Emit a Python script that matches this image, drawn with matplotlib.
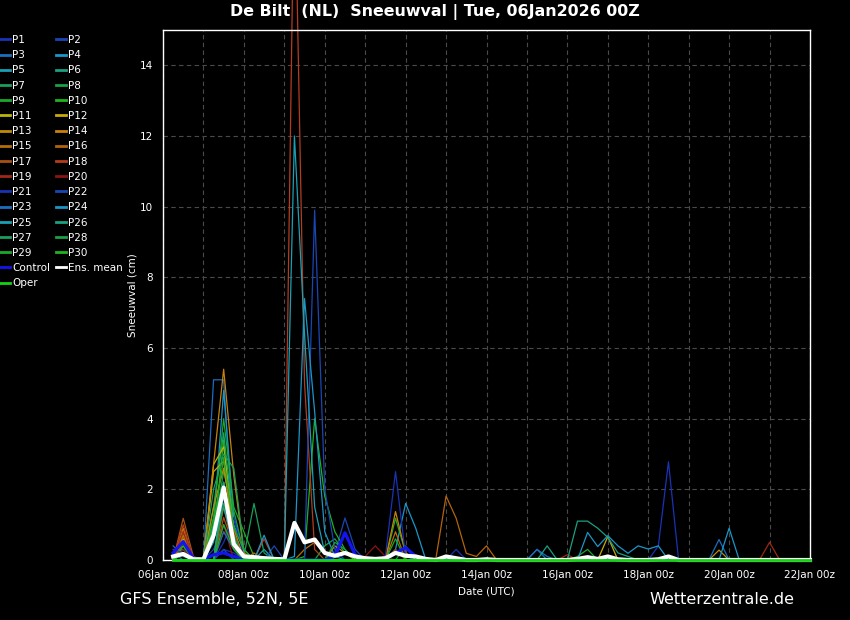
import numpy as np
import matplotlib.pyplot as plt
from matplotlib.lines import Line2D

# =========================
# DATA (sneeuwval in cm, per 6h stap)
# =========================

hours = np.arange(6, 385, 6)  # 06Jan 06z .. 22Jan 00z

tick_hours = [0, 48, 96, 144, 192, 240, 288, 336, 384]
tick_labels = ["06Jan 00z", "08Jan 00z", "10Jan 00z", "12Jan 00z", "14Jan 00z",
               "16Jan 00z", "18Jan 00z", "20Jan 00z", "22Jan 00z"]

# alleen de niet-nul waarden, {uur: cm}
P1 = {6: 0.1, 12: 0.3, 36: 0.3, 42: 0.2, 174: 0.3}
P2 = {12: 0.2, 30: 0.3, 36: 1.0, 42: 0.4, 102: 0.2, 108: 1.19, 114: 0.3}
P3 = {6: 0.4, 12: 0.1, 30: 5.1, 36: 5.1, 42: 0.4, 222: 0.3, 228: 0.1}
P4 = {30: 1.0, 36: 4.8, 42: 1.2, 48: 0.2, 138: 0.3, 144: 1.6, 150: 0.9}
P5 = {6: 0.2, 12: 0.3, 30: 0.5, 36: 2.2, 42: 0.6, 60: 0.3}
P6 = {12: 0.2, 30: 1.5, 36: 3.6, 42: 1.0, 48: 0.3}
P7 = {12: 0.3, 30: 1.2, 36: 2.2, 42: 0.8, 48: 0.1, 54: 1.6, 60: 0.2}
P8 = {12: 0.4, 30: 0.8, 36: 2.5, 42: 1.4, 48: 0.2, 96: 0.4, 102: 0.6, 108: 0.2, 144: 0.4}
P9 = {12: 0.5, 30: 1.2, 36: 4.0, 42: 1.5, 48: 0.8, 54: 0.1, 138: 1.18, 144: 0.2,
      246: 0.1, 252: 0.3}
P10 = {12: 0.4, 30: 0.6, 36: 3.4, 42: 0.5, 84: 0.1, 90: 4.0, 96: 1.8, 102: 0.8, 108: 0.3}
P11 = {12: 0.7, 30: 2.7, 36: 3.2, 42: 0.8, 48: 0.1}
P12 = {12: 0.6, 30: 2.5, 36: 2.8, 42: 0.6, 264: 0.66}
P13 = {12: 0.8, 30: 1.5, 36: 2.6, 42: 0.9, 102: 0.4, 108: 0.2, 330: 0.28}
P14 = {12: 0.9, 30: 2.7, 36: 5.4, 42: 2.4, 48: 0.2, 138: 1.37, 144: 0.2}
P15 = {12: 0.7, 30: 0.6, 36: 2.0, 42: 0.5, 54: 0.2, 84: 0.3, 90: 0.5, 96: 0.2, 138: 0.8}
P16 = {12: 0.5, 36: 1.5, 42: 0.3, 162: 0.05, 168: 1.81, 174: 1.18, 180: 0.19,
       186: 0.1, 192: 0.4}
P17 = {12: 1.18, 18: 0.1, 36: 1.2, 42: 0.4, 138: 0.3}
P18 = {12: 1.0, 36: 2.0, 42: 0.8, 60: 0.6, 78: 20.0, 84: 5.0, 90: 0.3}
P19 = {12: 0.8, 36: 0.8, 42: 0.3, 240: 0.15, 360: 0.5}
P20 = {12: 0.3, 36: 1.0, 120: 0.1, 126: 0.4, 132: 0.1}
P21 = {36: 0.5, 42: 1.2, 48: 0.1, 132: 0.1, 138: 2.5, 144: 0.1, 294: 0.4, 300: 2.78}
P22 = {6: 0.3, 12: 0.2, 36: 0.3, 66: 0.4, 90: 9.9, 96: 2.0, 102: 0.3}
P23 = {6: 0.2, 36: 0.8, 42: 0.3, 222: 0.3, 330: 0.58}
P24 = {12: 0.2, 36: 1.8, 42: 0.5, 60: 0.7, 78: 0.1, 84: 7.4, 90: 4.2, 96: 0.8, 102: 0.1,
       252: 0.78, 258: 0.38, 264: 0.69, 270: 0.4, 276: 0.19, 282: 0.4, 288: 0.31,
       294: 0.4, 336: 0.9}
P25 = {12: 0.2, 30: 0.6, 36: 1.5, 42: 0.4, 78: 12.0, 84: 6.4, 90: 1.5, 96: 0.2}
P26 = {36: 2.2, 42: 0.6, 228: 0.4, 246: 1.1, 252: 1.1, 258: 0.9, 264: 0.64, 270: 0.2,
       276: 0.1}
P27 = {30: 2.0, 36: 3.0, 42: 2.6, 48: 0.3, 60: 0.1}
P28 = {36: 1.6, 42: 0.7, 102: 0.5, 108: 0.3}
P29 = {30: 1.0, 36: 2.9, 42: 0.9, 48: 0.3, 138: 0.6}
P30 = {12: 0.2, 36: 1.0, 42: 0.3, 252: 0.1}
control = {6: 0.2, 12: 0.52, 18: 0.05, 30: 0.15, 36: 0.2, 42: 0.1, 102: 0.1, 108: 0.77,
           114: 0.15, 138: 0.2, 144: 0.35, 150: 0.1}
oper = {}
ens_mean = {6: 0.1, 12: 0.17, 18: 0.02, 24: 0.02, 30: 0.7, 36: 2.05, 42: 0.45, 48: 0.1,
            54: 0.08, 60: 0.05, 66: 0.03, 72: 0.02, 78: 1.05, 84: 0.5, 90: 0.58, 96: 0.2,
            102: 0.12, 108: 0.2, 114: 0.1, 120: 0.05, 126: 0.03, 132: 0.05, 138: 0.2,
            144: 0.12, 150: 0.1, 156: 0.03, 168: 0.1, 174: 0.05, 192: 0.02, 246: 0.03,
            252: 0.08, 258: 0.03, 264: 0.1, 270: 0.02, 294: 0.02, 300: 0.1}

members = [P1, P2, P3, P4, P5, P6, P7, P8, P9, P10, P11, P12, P13, P14, P15,
           P16, P17, P18, P19, P20, P21, P22, P23, P24, P25, P26, P27, P28, P29, P30]

# kleuren P1..P20, P21..P30 herhalen P1..P10
base_colors = ["#1a32b4", "#1a46b4", "#1a6ebe", "#1a96c8", "#1aa0b4", "#1aa082",
               "#1a9e5a", "#1aa046", "#1aaa28", "#1eb41e", "#bcb40a", "#c8aa0a",
               "#be8c0a", "#c8820a", "#b46e0a", "#b4640a", "#aa5014", "#b43c1e",
               "#a02814", "#8c1414"]


def series(d):
    return [d.get(h, 0.0) for h in hours]


# =========================
# PLOT
# =========================

fig = plt.figure(figsize=(8.5, 6.2), dpi=100, facecolor="black")
ax = fig.add_axes([163/850, 60/620, 647/850, 530/620], facecolor="black")

handles = {}
for i, m in enumerate(members):
    name = f"P{i+1}"
    col = base_colors[i % 20]
    ax.plot(hours, series(m), color=col, lw=0.9, clip_on=False, zorder=2)
    handles[name] = Line2D([], [], color=col, lw=2)

ax.plot(hours, series(control), color="#1414f0", lw=2.3, clip_on=False, zorder=2.2)
ax.plot(hours, series(ens_mean), color="white", lw=3, clip_on=False, zorder=2.4)
ax.plot(hours, series(oper), color="#14d214", lw=2, clip_on=False, zorder=3)
handles["Control"] = Line2D([], [], color="#1414f0", lw=2)
handles["Ens. mean"] = Line2D([], [], color="white", lw=2)
handles["Oper"] = Line2D([], [], color="#14d214", lw=2)

ax.set_xlim(0, 384)
ax.set_ylim(0, 15)
ax.set_xticks(tick_hours)
ax.set_xticklabels(tick_labels)
ax.set_xticks(np.arange(0, 385, 24), minor=True)
ax.set_yticks(np.arange(0, 15, 2))
ax.tick_params(colors="white", labelsize=7.5, length=0, pad=7, which="both")
ax.grid(True, which="both", color="#4a4a4a", ls=(0, (4, 3)), lw=0.8)
for s in ax.spines.values():
    s.set_color("white")
    s.set_linewidth(1)
ax.set_xlabel("Date (UTC)", color="white", fontsize=7.5, labelpad=5)
ax.set_ylabel("Sneeuwval (cm)", color="white", fontsize=7.5, labelpad=2)

# legenda: kolom 1 oneven, kolom 2 even
order = [f"P{k}" for k in range(1, 30, 2)] + ["Control", "Oper"] + \
        [f"P{k}" for k in range(2, 31, 2)] + ["Ens. mean"]
leg = fig.legend([handles[k] for k in order], order, loc="upper left",
                 bbox_to_anchor=(0.0, 1 - 35/620), ncol=2, frameon=False,
                 fontsize=7.5, handlelength=1.0, handletextpad=0.15,
                 columnspacing=0.55, labelspacing=0.5, borderaxespad=0,
                 borderpad=0, labelcolor="white")

fig.text(0.512, 0.98, "De Bilt  (NL)  Sneeuwval | Tue, 06Jan2026 00Z",
         color="white", fontsize=11.4, fontweight="bold", ha="center", va="center")
fig.text(120/850, 1 - 599/620, "GFS Ensemble, 52N, 5E", color="white",
         fontsize=11.5, ha="left", va="center")
fig.text(794/850, 1 - 599/620, "Wetterzentrale.de", color="white",
         fontsize=11.5, ha="right", va="center")

fig.savefig("out.png", dpi=100, facecolor="black")
